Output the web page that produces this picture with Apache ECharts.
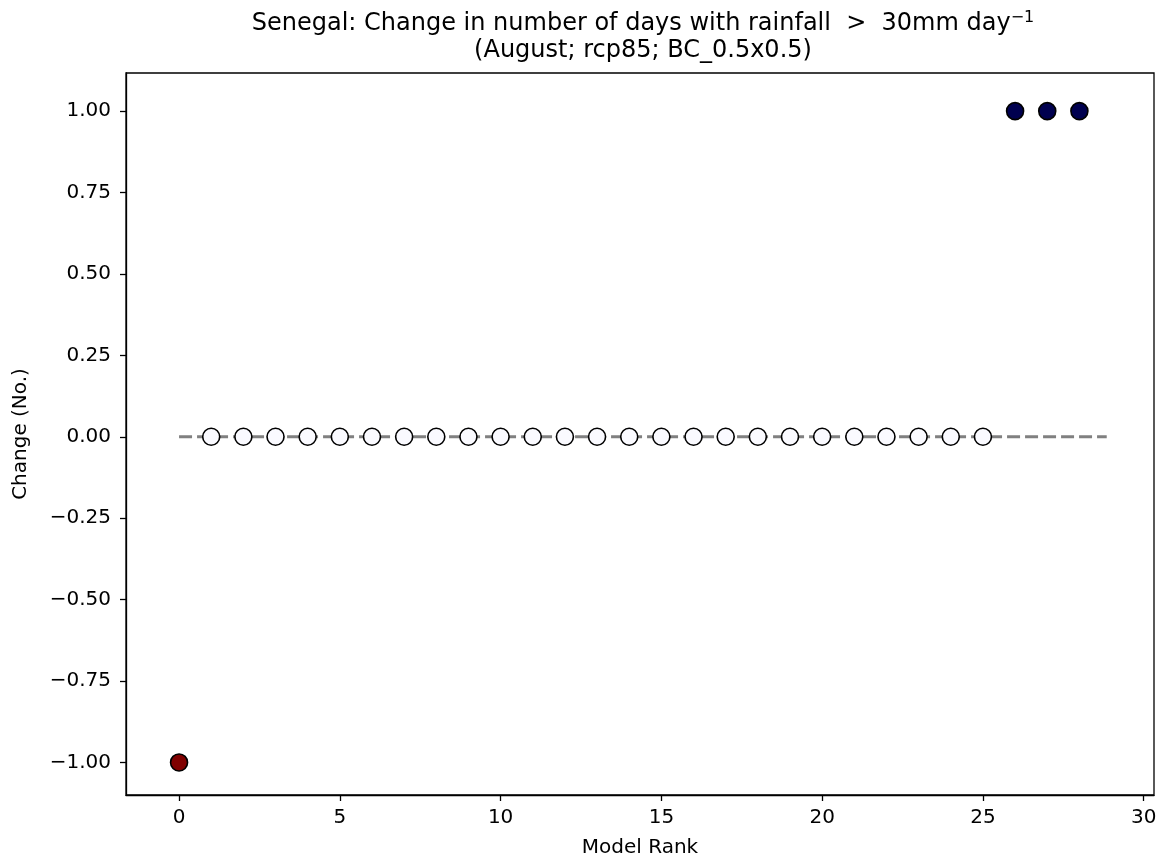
<!DOCTYPE html>
<html>
<head>
<meta charset="utf-8">
<script src="https://cdn.jsdelivr.net/npm/echarts@6/dist/echarts.min.js"></script>
<style>
html,body{margin:0;padding:0;background:#fff;}
#main{width:1160px;height:863px;}
</style>
</head>
<body>
<div id="main"></div>
<script>
var ranks = [0,1,2,3,4,5,6,7,8,9,10,11,12,13,14,15,16,17,18,19,20,21,22,23,24,25,26,27,28];
var changes = [-1,0,0,0,0,0,0,0,0,0,0,0,0,0,0,0,0,0,0,0,0,0,0,0,0,0,1,1,1];
var zeroLineX = [0, 28.85];
var xTicks = [0,5,10,15,20,25,30];
var yTicks = [-1,-0.75,-0.5,-0.25,0,0.25,0.5,0.75,1];

function pointColor(v){
    if(v < 0) return '#800000';
    if(v > 0) return '#00004f';
    return '#fafaff';
}

var pts = [];
for(var i = 0;i < ranks.length;i++){
    pts.push({value:[ranks[i],changes[i]], itemStyle:{color:pointColor(changes[i])}});
}

var font = 'DejaVu Sans';
var option = {
    animation:false,
    title: {
        text: '{t|Senegal: Change in number of days with rainfall  >  30mm day}{s|\u22121}\n{t|(August; rcp85; BC_0.5x0.5)}',
        left: 643,
        textAlign: 'center',
        top: 10,
        padding: 0,
        textStyle: {
            rich: {
                t: {fontFamily:font, fontSize:24, fontWeight:'normal', color:'#000', lineHeight:27},
                s: {fontFamily:font, fontSize:16, fontWeight:'normal', color:'#000', verticalAlign:'top', lineHeight:27, padding:[0,0,14,0]}
            }
        }
    },
    grid: {
        left: 126,
        right: 6,
        top: 73,
        bottom: 67,
        show: true,
        borderColor: '#000',
        borderWidth: 1.3,
        containLabel: false
    },
    xAxis: {
        type: 'value',
        min: -1.65,
        max: 30.32,
        name: 'Model Rank',
        nameLocation: 'middle',
        nameGap: 43,
        nameTextStyle: {fontFamily:font, fontSize:20, color:'#000'},
        splitLine: {show:false},
        axisLine: {show:true, onZero:false, lineStyle:{color:'#000', width:1.3}},
        axisTick: {show:true, length:6, lineStyle:{color:'#000', width:1.3}, customValues: xTicks},
        axisLabel: {fontFamily:font, fontSize:20, color:'#000', margin:13, customValues: xTicks}
    },
    yAxis: {
        type: 'value',
        min: -1.1,
        max: 1.117,
        name: 'Change (No.)',
        nameLocation: 'middle',
        nameGap: 95,
        nameTextStyle: {fontFamily:font, fontSize:20, color:'#000'},
        splitLine: {show:false},
        axisLine: {show:true, onZero:false, lineStyle:{color:'#000', width:1.3}},
        axisTick: {show:true, length:6, lineStyle:{color:'#000', width:1.3}, customValues: yTicks},
        axisLabel: {
            fontFamily:font, fontSize:20, color:'#000', margin:15, customValues: yTicks,
            formatter: function(v){
                var s = Math.abs(v).toFixed(2);
                return v < 0 ? '\u2212' + s : s;
            }
        }
    },
    series: [
        {
            type: 'line',
            data: [[zeroLineX[0],0],[zeroLineX[1],0]],
            symbol: 'none',
            lineStyle: {color:'#808080', width:3, type:[13,5]},
            z: 1
        },
        {
            type: 'scatter',
            data: pts,
            symbolSize: 17,
            itemStyle: {borderColor:'#000', borderWidth:1.6, opacity:1},
            z: 2
        }
    ]
};

var dom = document.getElementById('main');
var myChart = echarts.init(dom);
myChart.setOption(option, true);
</script>
</body>
</html>
